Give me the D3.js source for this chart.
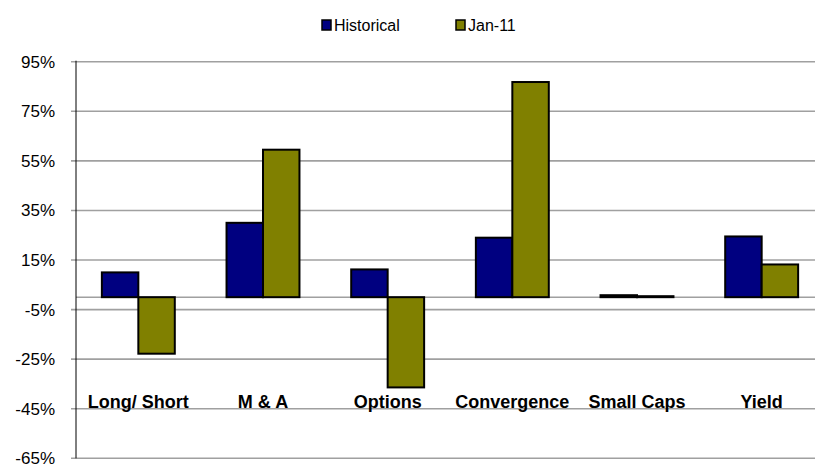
<!DOCTYPE html>
<html><head><meta charset="utf-8">
<script src="https://cdn.jsdelivr.net/npm/d3@7"></script>
<style>html,body{margin:0;padding:0;background:#fff;}svg{display:block;}</style>
</head><body>
<svg id="c" width="815" height="466"></svg>
<script>
const categories = ["Long/ Short", "M & A", "Options", "Convergence", "Small Caps", "Yield"];
const seriesNames = ["Historical", "Jan-11"];
const historical = [10, 30, 11.2, 24, 0.8, 24.5];
const jan11 = [-22.8, 59.5, -36.4, 86.8, 0.4, 13.2];
const yTicks = [95, 75, 55, 35, 15, -5, -25, -45, -65];
const colors = ["#000080", "#808000"];

(function () {
const svg = d3.select("#c");
const font = "Liberation Sans, Arial, sans-serif";
const pLeft = 76, pRight = 824, pTop = 61.7, pBottom = 458.3;

const y = d3.scaleLinear().domain([-65, 95]).range([pBottom, pTop]);
const x0 = d3.scaleBand().domain(categories).range([pLeft, pRight]).paddingInner(0.415).paddingOuter(0.2075);
const x1 = d3.scaleBand().domain(seriesNames).range([0, x0.bandwidth()]);

// gridlines
svg.append("g").selectAll("line").data(yTicks).join("line")
  .attr("x1", pLeft - 5).attr("x2", pRight)
  .attr("y1", d => y(d)).attr("y2", d => y(d))
  .attr("stroke", "#a0a0a0").attr("stroke-width", 1.6);

// zero line
svg.append("line").attr("x1", pLeft).attr("x2", pRight).attr("y1", y(0)).attr("y2", y(0))
  .attr("stroke", "#a0a0a0").attr("stroke-width", 1.6);

// y axis line
svg.append("line").attr("x1", pLeft).attr("x2", pLeft).attr("y1", pTop - 1).attr("y2", pBottom)
  .attr("stroke", "#000").attr("stroke-width", 1);

// y tick labels
svg.append("g").selectAll("text").data(yTicks).join("text")
  .attr("x", 55).attr("y", d => y(d) + 6)
  .attr("text-anchor", "end").attr("font-family", font).attr("font-size", 17)
  .attr("fill", "#000").text(d => d + "%");

// bars
const data = categories.map((c, i) => ({c, vals: [historical[i], jan11[i]]}));
const g = svg.append("g").selectAll("g").data(data).join("g")
  .attr("transform", d => `translate(${x0(d.c)},0)`);
g.selectAll("rect").data(d => d.vals.map((v, j) => ({v, s: seriesNames[j], j}))).join("rect")
  .attr("x", d => x1(d.s)).attr("width", x1.bandwidth())
  .attr("y", d => y(Math.max(0, d.v)))
  .attr("height", d => Math.abs(y(d.v) - y(0)))
  .attr("fill", d => colors[d.j]).attr("stroke", "#000").attr("stroke-width", 2);

// category labels
svg.append("g").selectAll("text").data(categories).join("text")
  .attr("x", d => x0(d) + x0.bandwidth() / 2).attr("y", 407.5)
  .attr("text-anchor", "middle").attr("font-family", font).attr("font-size", 18)
  .attr("font-weight", "bold").attr("fill", "#000").text(d => d);

// legend
const legendX = [322, 456];
const lg = svg.append("g").selectAll("g").data(seriesNames).join("g")
  .attr("transform", (d, i) => `translate(${legendX[i]},0)`);
lg.append("rect").attr("x", 0).attr("y", 20).attr("width", 9).attr("height", 10)
  .attr("fill", (d, i) => colors[i]).attr("stroke", "#000").attr("stroke-width", 1.5);
lg.append("text").attr("x", 12).attr("y", 31).attr("font-family", font).attr("font-size", 16)
  .attr("fill", "#000").text(d => d);
})();
</script>
</body></html>
